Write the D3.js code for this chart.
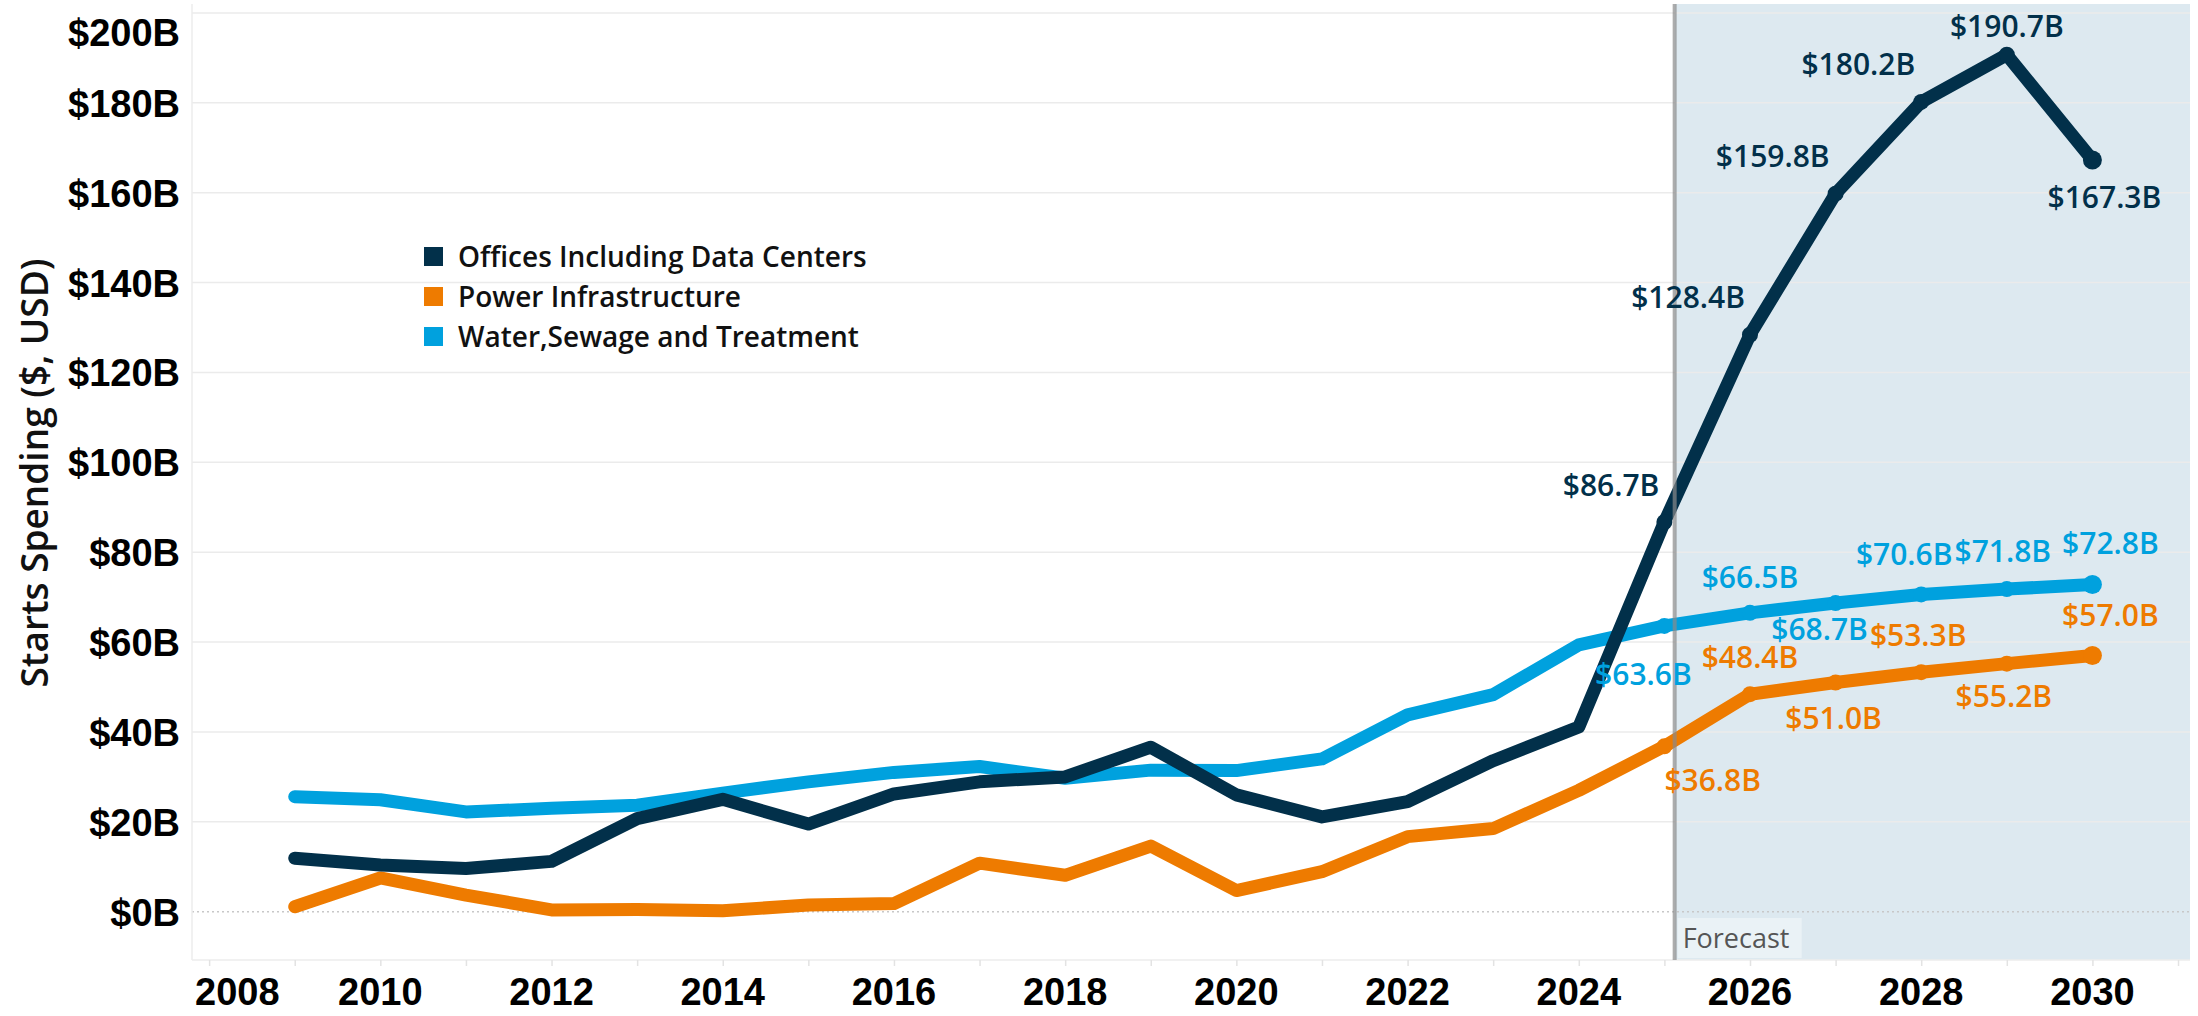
<!DOCTYPE html>
<meta charset="utf-8">
<style>
    body {
        margin: 0;
        background: #ffffff;
    }

    .grid line {
        stroke: #ebebeb;
        stroke-width: 1.5px;
    }

    .tick-label {
        font-family: "Liberation Sans", Arial, sans-serif;
        font-weight: 700;
        fill: #000000;
    }

    .data-label {
        font-family: "Open Sans", sans-serif;
        font-weight: 600;
        font-size: 30px;
    }

    .legend text {
        font-family: "Open Sans", sans-serif;
        font-weight: 600;
        font-size: 28px;
        fill: #111111;
    }
</style>

<body>
    <svg id="chart" width="2198" height="1016"></svg>

    <script src="https://cdnjs.cloudflare.com/ajax/libs/d3/7.8.5/d3.min.js"></script>

    <script>
        // values in $B, one per year
        var years = [2009, 2010, 2011, 2012, 2013, 2014, 2015, 2016, 2017, 2018, 2019,
            2020, 2021, 2022, 2023, 2024, 2025, 2026, 2027, 2028, 2029, 2030];

        var offices = [11.9, 10.4, 9.6, 11.2, 20.7, 25.0, 19.5, 26.2, 28.9, 30.0, 36.6,
            26.0, 21.1, 24.5, 33.6, 41.1, 86.7, 128.4, 159.8, 180.2, 190.7, 167.3];

        var power = [1.1, 7.5, 3.7, 0.4, 0.5, 0.2, 1.5, 1.8, 10.8, 8.1, 14.6,
            4.7, 8.9, 16.7, 18.5, 27.0, 36.8, 48.4, 51.0, 53.3, 55.2, 57.0];

        var water = [25.6, 24.9, 22.2, 23.0, 23.7, 26.4, 28.9, 31.0, 32.3, 29.7, 31.5,
            31.4, 34.0, 43.8, 48.3, 59.4, 63.6, 66.5, 68.7, 70.6, 71.8, 72.8];

        var seriesNames = ["Offices Including Data Centers", "Power Infrastructure", "Water,Sewage and Treatment"];
        var yTicks = [0, 20, 40, 60, 80, 100, 120, 140, 160, 180, 200];
        var xTicks = [2008, 2010, 2012, 2014, 2016, 2018, 2020, 2022, 2024, 2026, 2028, 2030];
        var forecastStart = 2025.12;
        var firstLabelYear = 2025;

        var renderChart = function () {
            var svg = d3.select("#chart");

            var x = d3.scaleLinear()
                .domain([2007.8, 2031.14])
                .range([192, 2190]);
            var y = d3.scaleLinear()
                .domain([-10.75, 202])
                .range([960, 4]);

            var colors = {
                offices: "#02304a",
                power: "#ee7b00",
                water: "#00a1de"
            };

            var series = [
                { key: "water", name: seriesNames[2], values: water },
                { key: "power", name: seriesNames[1], values: power },
                { key: "offices", name: seriesNames[0], values: offices }
            ];

            // label placement: [dx, dy, anchor] for each forecast year
            var labelPlace = {
                offices: [[-5, -26, "end"], [-5, -27, "end"], [-6, -27, "end"], [-6, -27, "end"], [0, -18, "middle"], [12, 48, "middle"]],
                water: [[-21, 59, "middle"], [0, -25, "middle"], [-16, 37, "middle"], [-17, -29, "middle"], [-4, -27, "middle"], [18, -31, "middle"]],
                power: [[0, 45, "start"], [0, -26, "middle"], [-2, 46, "middle"], [-3, -26, "middle"], [-3, 43, "middle"], [18, -30, "middle"]]
            };

            // forecast band
            svg.append("rect")
                .attr("x", x(forecastStart))
                .attr("y", y.range()[1])
                .attr("width", x.range()[1] - x(forecastStart))
                .attr("height", y.range()[0] - y.range()[1])
                .attr("fill", "#dde9f0");

            // grid
            svg.append("g")
                .attr("class", "grid")
                .selectAll("line")
                .data(yTicks.filter(function (d) { return d > 0; }))
                .enter().append("line")
                .attr("x1", x.range()[0])
                .attr("x2", x.range()[1])
                .attr("y1", function (d) { return y(d); })
                .attr("y2", function (d) { return y(d); });

            svg.append("line")
                .attr("x1", x.range()[0])
                .attr("x2", x.range()[1])
                .attr("y1", y(0))
                .attr("y2", y(0))
                .style("stroke", "#c8c8c8")
                .style("stroke-width", 1.5)
                .style("stroke-dasharray", "2,3");

            // frame
            svg.append("line")
                .attr("x1", x.range()[0]).attr("x2", x.range()[0])
                .attr("y1", y.range()[1]).attr("y2", y.range()[0])
                .style("stroke", "#ececec").style("stroke-width", 1.5);
            svg.append("line")
                .attr("x1", x.range()[0]).attr("x2", x.range()[1])
                .attr("y1", y.range()[0]).attr("y2", y.range()[0])
                .style("stroke", "#ececec").style("stroke-width", 1.5);

            // x axis
            var xAxis = svg.append("g")
                .attr("transform", "translate(0," + y.range()[0] + ")")
                .call(d3.axisBottom(x)
                    .tickValues(d3.range(2008, 2032))
                    .tickSize(6)
                    .tickFormat(""));
            xAxis.select(".domain").remove();
            xAxis.selectAll(".tick line").style("stroke", "#e3e3e3").style("stroke-width", 1.5);

            svg.append("g")
                .selectAll("text")
                .data(xTicks)
                .enter().append("text")
                .attr("class", "tick-label")
                .attr("x", function (d) { return d === 2008 ? 195 : x(d); })
                .attr("y", 1005)
                .attr("text-anchor", function (d) { return d === 2008 ? "start" : "middle"; })
                .style("font-size", "38px")
                .text(function (d) { return d; });

            // y axis labels
            svg.append("g")
                .selectAll("text")
                .data(yTicks)
                .enter().append("text")
                .attr("class", "tick-label")
                .attr("x", 180)
                .attr("y", function (d) { return Math.max(y(d) + 14, 46); })
                .attr("text-anchor", "end")
                .style("font-size", "38px")
                .text(function (d) { return "$" + d + "B"; });

            svg.append("text")
                .attr("transform", "translate(48,473) rotate(-90)")
                .attr("text-anchor", "middle")
                .style("font-family", "'Open Sans', sans-serif")
                .style("font-weight", "600")
                .style("font-size", "37px")
                .style("fill", "#111")
                .text("Starts Spending ($, USD)");

            // lines
            var line = d3.line()
                .x(function (d) { return x(d.year); })
                .y(function (d) { return y(d.value); });

            series.forEach(function (s) {
                var pts = years.map(function (yr, i) { return { year: yr, value: s.values[i] }; });
                svg.append("path")
                    .datum(pts)
                    .attr("d", line)
                    .attr("fill", "none")
                    .attr("stroke", colors[s.key])
                    .attr("stroke-width", 13)
                    .attr("stroke-linejoin", "round")
                    .attr("stroke-linecap", "round");

                var fpts = pts.filter(function (d) { return d.year >= firstLabelYear; });
                svg.append("g")
                    .selectAll("circle")
                    .data(fpts)
                    .enter().append("circle")
                    .attr("cx", function (d) { return x(d.year); })
                    .attr("cy", function (d) { return y(d.value); })
                    .attr("r", function (d, i) { return i === fpts.length - 1 ? 9.5 : 8; })
                    .attr("fill", colors[s.key]);
            });

            // reference line for forecast
            svg.append("line")
                .attr("x1", x(forecastStart)).attr("x2", x(forecastStart))
                .attr("y1", y.range()[1]).attr("y2", y.range()[0])
                .style("stroke", "#8a8a8a")
                .style("stroke-opacity", 0.7)
                .style("stroke-width", 4);

            svg.append("rect")
                .attr("x", x(forecastStart) + 3)
                .attr("y", 918)
                .attr("width", 124)
                .attr("height", 40)
                .attr("fill", "#eaf2f6");
            svg.append("text")
                .attr("x", x(forecastStart) + 8)
                .attr("y", 948)
                .style("font-family", "'Open Sans', sans-serif")
                .style("font-size", "27px")
                .style("fill", "#555555")
                .text("Forecast");

            // data labels
            series.forEach(function (s) {
                var place = labelPlace[s.key];
                var lab = years.map(function (yr, i) { return { year: yr, value: s.values[i] }; })
                    .filter(function (d) { return d.year >= firstLabelYear; });
                svg.append("g")
                    .selectAll("text")
                    .data(lab)
                    .enter().append("text")
                    .attr("class", "data-label")
                    .attr("x", function (d, i) { return x(d.year) + place[i][0]; })
                    .attr("y", function (d, i) { return y(d.value) + place[i][1]; })
                    .attr("text-anchor", function (d, i) { return place[i][2]; })
                    .style("fill", colors[s.key])
                    .text(function (d) { return "$" + d.value.toFixed(1) + "B"; });
            });

            // legend
            var legendItems = [
                { name: seriesNames[0], color: colors.offices },
                { name: seriesNames[1], color: colors.power },
                { name: seriesNames[2], color: colors.water }
            ];
            var legend = svg.append("g")
                .attr("class", "legend")
                .attr("transform", "translate(424,247)");
            var rows = legend.selectAll("g")
                .data(legendItems)
                .enter().append("g")
                .attr("transform", function (d, i) { return "translate(0," + (i * 40) + ")"; });
            rows.append("rect")
                .attr("width", 19)
                .attr("height", 19)
                .attr("fill", function (d) { return d.color; });
            rows.append("text")
                .attr("x", 34)
                .attr("y", 20)
                .text(function (d) { return d.name; });
        }
        renderChart();
    </script>
</body>
